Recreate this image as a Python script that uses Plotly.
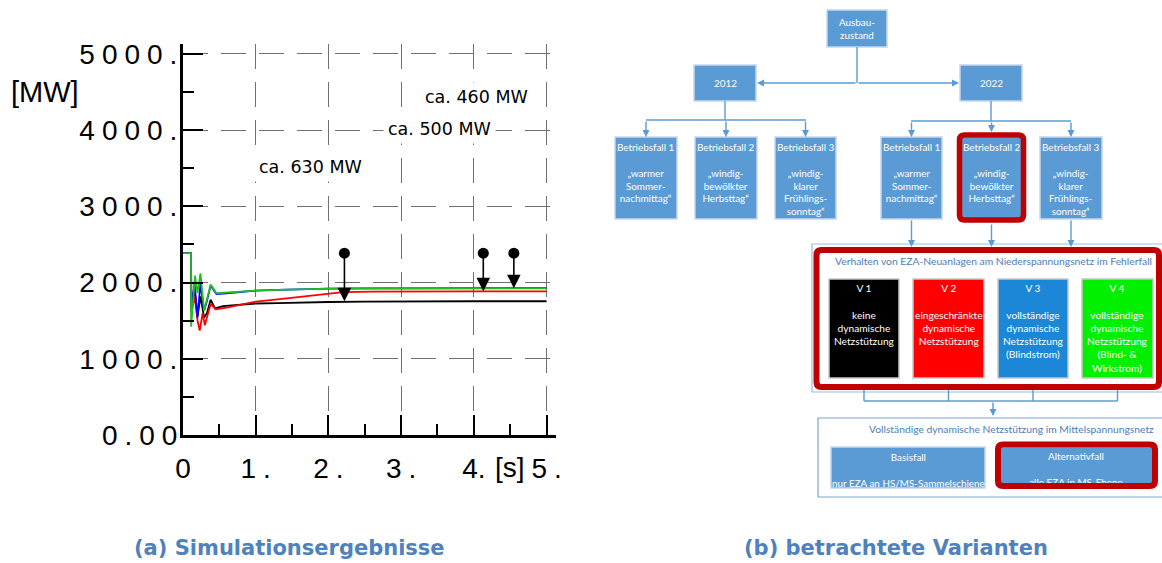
import plotly.graph_objects as go

# ---------------------------------------------------------------
# (a) Simulated active power [MW] after the fault, variants V1..V4
# ---------------------------------------------------------------
t_v1 = [0, 0.11, 0.115, 0.16, 0.2, 0.24, 0.29, 0.33, 0.38, 0.44, 0.55, 0.7, 0.85, 1.0, 1.3, 1.6, 2.0, 2.5, 3.0, 4.0, 5.0]
p_v1 = [2385, 2385, 1650, 1880, 1560, 1820, 1540, 1600, 1775, 1660, 1690, 1700, 1715, 1725, 1730, 1738, 1745, 1750, 1753, 1755, 1755]

t_v2 = [0, 0.11, 0.115, 0.16, 0.2, 0.23, 0.27, 0.3, 0.38, 0.45, 0.6, 0.8, 1.0, 1.3, 1.6, 1.9, 2.2, 2.6, 3.0, 4.0, 5.0]
p_v2 = [2385, 2385, 1600, 1820, 1500, 1370, 1600, 1440, 1720, 1650, 1670, 1710, 1750, 1780, 1810, 1850, 1875, 1882, 1885, 1885, 1885]

t_v3 = [0, 0.11, 0.115, 0.16, 0.2, 0.24, 0.29, 0.33, 0.38, 0.46, 0.6, 0.8, 1.0, 1.3, 1.6, 2.0, 2.5, 3.0, 4.0, 5.0]
p_v3 = [2385, 2385, 1700, 1980, 1540, 1990, 1630, 1760, 1960, 1850, 1860, 1880, 1895, 1905, 1915, 1920, 1923, 1925, 1927, 1928]

t_v4 = [0, 0.11, 0.112, 0.165, 0.2, 0.24, 0.29, 0.33, 0.38, 0.46, 0.6, 0.8, 1.0, 1.3, 1.6, 2.0, 2.5, 3.0, 4.0, 5.0]
p_v4 = [2385, 2385, 1420, 2090, 1860, 2120, 1630, 1800, 1975, 1860, 1870, 1885, 1895, 1905, 1915, 1920, 1922, 1924, 1925, 1925]

series_names = ["V 1", "V 2", "V 3", "V 4"]
series_colors = ["#000000", "#ff0000", "#0000ff", "#1fbf1f"]

# power drop markers: time, pre-fault level, settled level
drop_t = [2.22, 4.13, 4.55]
drop_from = [2385, 2385, 2385]
drop_to = [1755, 1885, 1925]
drop_labels = ["ca. 630 MW", "ca. 500 MW", "ca. 460 MW"]
drop_label_x = [1.75, 3.53, 4.04]
drop_label_y = [3510, 4010, 4440]

SP = "\u2005"  # letter spacing used in the tick labels
x_ticks = [0, 1, 2, 3, 4, 5]
x_ticktext = ["0", "1" + SP + ".", "2" + SP + ".", "3" + SP + ".", "4.", "5" + SP + "."]
y_ticks = [0, 1000, 2000, 3000, 4000, 5000]
y_ticktext = [SP.join("0.00"), SP.join("1000."), SP.join("2000."),
              SP.join("3000."), SP.join("4000."), SP.join("5000.")]

W, H = 1162, 563
fig = go.Figure()

for t, p, name, col in zip([t_v1, t_v2, t_v3, t_v4], [p_v1, p_v2, p_v3, p_v4], series_names, series_colors):
    fig.add_trace(go.Scatter(x=t, y=p, mode="lines", name=name,
                             line=dict(color=col, width=1.8), xaxis="x", yaxis="y",
                             hoverinfo="skip"))

fig.add_trace(go.Scatter(x=drop_t, y=drop_from, mode="markers",
                         marker=dict(color="black", size=11, symbol="circle"),
                         xaxis="x", yaxis="y", hoverinfo="skip"))

annotations = []
shapes = []

for t, a, b in zip(drop_t, drop_from, drop_to):
    annotations.append(dict(x=t, y=b, ax=t, ay=a, xref="x", yref="y", axref="x", ayref="y",
                            text="", showarrow=True, arrowhead=2, arrowsize=1.7,
                            arrowwidth=1.6, arrowcolor="black", standoff=0))

for txt, x, y in zip(drop_labels, drop_label_x, drop_label_y):
    annotations.append(dict(x=x, y=y, xref="x", yref="y", text=txt, showarrow=False,
                            font=dict(family="DejaVu Sans", size=17.5, color="black"),
                            bgcolor="white", borderpad=4))

# --------------------------------------------------------------
# helpers for the flow diagram, drawn on a pixel-scaled overlay axis
# --------------------------------------------------------------
BLUE = "#5b9bd5"
EDGE = "#c6d6ea"
DARKRED = "#c00000"
HEAD = "#4f7db3"
FONT = "Lato"
BOXSIZE = 9.9


def label(x, y, text, size=BOXSIZE, color="white", yanchor="middle", xanchor="center"):
    annotations.append(dict(x=x, y=y, xref="x2", yref="y2", text=text, showarrow=False,
                            font=dict(family=FONT, size=size, color=color),
                            xanchor=xanchor, yanchor=yanchor, align="center"))


def box(x0, y0, x1, y1, fill=BLUE, edge=EDGE, lw=1.5):
    shapes.append(dict(type="rect", xref="x2", yref="y2", x0=x0, y0=y0, x1=x1, y1=y1,
                       fillcolor=fill, line=dict(color=edge, width=lw), layer="below"))


def line(x0, y0, x1, y1, color=BLUE, lw=1.4):
    shapes.append(dict(type="line", xref="x2", yref="y2", x0=x0, y0=y0, x1=x1, y1=y1,
                       line=dict(color=color, width=lw), layer="below"))


def arrow(x0, y0, x1, y1, color=BLUE):
    annotations.append(dict(x=x1, y=y1, ax=x0, ay=y0, xref="x2", yref="y2", axref="x2", ayref="y2",
                            text="", showarrow=True, arrowhead=2, arrowsize=1.0,
                            arrowwidth=1.4, arrowcolor=color, standoff=0))


def rounded(x0, y0, x1, y1, r):
    return (f"M{x0 + r},{y0} L{x1 - r},{y0} Q{x1},{y0} {x1},{y0 + r} "
            f"L{x1},{y1 - r} Q{x1},{y1} {x1 - r},{y1} L{x0 + r},{y1} "
            f"Q{x0},{y1} {x0},{y1 - r} L{x0},{y0 + r} Q{x0},{y0} {x0 + r},{y0} Z")


def frame(x0, y0, x1, y1, lw=6, r=5):
    shapes.append(dict(type="path", xref="x2", yref="y2", path=rounded(x0, y0, x1, y1, r),
                       line=dict(color=DARKRED, width=lw), fillcolor="rgba(0,0,0,0)", layer="above"))


# top level
box(827, 10, 887, 47)
label(857, 28.5, "Ausbau-<br>zustand")
line(857, 47, 857, 83)
arrow(857, 83, 757, 83)
arrow(857, 83, 959, 83)

box(694, 65, 756, 101)
label(725, 83, "2012")
box(960, 65, 1022, 101)
label(991, 83, "2022")

# operating cases
cases = ["Betriebsfall 1<br><br>\u201ewarmer<br>Sommer-<br>nachmittag\u201c",
         "Betriebsfall 2<br><br>\u201ewindig-<br>bew\u00f6lkter<br>Herbsttag\u201c",
         "Betriebsfall 3<br><br>\u201ewindig-<br>klarer<br>Fr\u00fchlings-<br>sonntag\u201c"]

line(725, 101, 725, 120)
line(646, 120, 806, 120)
for (x0, x1), txt in zip([(615, 677), (695, 757), (775, 836)], cases):
    xc = (x0 + x1) / 2
    arrow(xc, 120, xc, 137)
    box(x0, 137, x1, 219)
    label(xc, 138.5, txt, yanchor="top")

line(991, 101, 991, 121)
line(911, 121, 1071, 121)
for (x0, x1), txt, target in zip([(881, 942), (961, 1022), (1040, 1102)], cases, [137, 132, 137]):
    xc = (x0 + x1) / 2
    arrow(xc, 121, xc, target)
    box(x0, 137, x1, 219)
    label(xc, 138.5, txt, yanchor="top")
    arrow(xc, 223 if target == 132 else 219, xc, 247)
frame(959.5, 135, 1023.5, 220, lw=5.5, r=5)

# fault behaviour of new low-voltage units
box(812, 244, 1175, 392, fill="white", edge="#9db9dc", lw=1.2)
frame(816.5, 250, 1159, 387, lw=6, r=5)
label(833, 261, "Verhalten von EZA-Neuanlagen am Niederspannungsnetz im Fehlerfall",
      size=10.3, color=HEAD, xanchor="left")

variants = [("#000000", "V 1<br><br>keine<br>dynamische<br>Netzst\u00fctzung"),
            ("#ff0000", "V 2<br><br>eingeschr\u00e4nkte<br>dynamische<br>Netzst\u00fctzung"),
            ("#1b87d6", "V 3<br><br>vollst\u00e4ndige<br>dynamische<br>Netzst\u00fctzung<br>(Blindstrom)"),
            ("#00f000", "V 4<br><br>vollst\u00e4ndige<br>dynamische<br>Netzst\u00fctzung<br>(Blind- &<br>Wirkstrom)")]
for (x0, x1), (col, txt) in zip([(829, 899), (913, 984), (998, 1068), (1082, 1153)], variants):
    xc = (x0 + x1) / 2
    box(x0, 279, x1, 378, fill=col, edge="#c8c8c8")
    label(xc, 280, txt, size=10.2, yanchor="top")
    line(xc, 390, xc, 401)
line(864, 401, 1117.5, 401)
arrow(993, 401, 993, 416)

# medium-voltage support
box(818, 418, 1175, 497, fill="white", edge="#7fa5d0", lw=1.2)
label(867, 429, "Vollst\u00e4ndige dynamische Netzst\u00fctzung im Mittelspannungsnetz",
      size=10.3, color=HEAD, xanchor="left")
box(831, 447, 985, 488)
label(908, 448.5, "Basisfall<br><br>nur EZA an HS/MS-Sammelschiene", yanchor="top")
box(1000, 447, 1153, 487)
label(1076, 456, "Alternativfall")
fig.add_trace(go.Scatter(x=[1076], y=[484], mode="text", text=["alle EZA in MS-Ebene"],
                         textfont=dict(family=FONT, size=BOXSIZE, color="white"),
                         xaxis="x2", yaxis="y2", hoverinfo="skip"))
frame(998, 444.5, 1155, 486, lw=6, r=5)

# axis units and captions
annotations.append(dict(x=45, y=92, xref="x2", yref="y2", text="[MW]", showarrow=False,
                        font=dict(family="Liberation Sans", size=29, color="black")))
annotations.append(dict(x=510, y=467, xref="x2", yref="y2", text="[s]", showarrow=False,
                        font=dict(family="Liberation Sans", size=28, color="black")))
annotations.append(dict(x=289, y=548, xref="x2", yref="y2", text="<b>(a) Simulationsergebnisse</b>",
                        showarrow=False, font=dict(family="DejaVu Sans", size=21, color="#4f81bd")))
annotations.append(dict(x=896, y=548, xref="x2", yref="y2", text="<b>(b) betrachtete Varianten</b>",
                        showarrow=False, font=dict(family="DejaVu Sans", size=21, color="#4f81bd")))

grid = dict(showgrid=True, gridcolor="#707070", gridwidth=1.2, griddash="25px,13px", zeroline=False)
tickfont = dict(family="Liberation Sans", size=28, color="black")
hidden = dict(domain=[0, 1], showgrid=False, zeroline=False, showline=False, ticks="",
              showticklabels=False, automargin=False, fixedrange=True)

fig.update_layout(
    width=W, height=H, autosize=False,
    margin=dict(l=0, r=0, t=0, b=0, pad=0),
    paper_bgcolor="white", plot_bgcolor="rgba(0,0,0,0)",
    showlegend=False,
    xaxis=dict(domain=[183 / W, 556 / W], range=[0, 5.13], anchor="y", automargin=False,
               showline=True, linewidth=3, linecolor="black",
               ticks="inside", ticklen=20, tickwidth=2, tickcolor="black",
               tickvals=x_ticks, ticktext=x_ticktext, tickfont=tickfont, ticklabelstandoff=6,
               minor=dict(dtick=0.5, ticks="inside", ticklen=11, tickwidth=2, tickcolor="black", showgrid=False),
               **grid),
    yaxis=dict(domain=[1 - 435 / H, 1 - 44 / H], range=[0, 5130], anchor="x", automargin=False,
               showline=True, linewidth=3, linecolor="black",
               ticks="inside", ticklen=20, tickwidth=2, tickcolor="black",
               tickvals=y_ticks, ticktext=y_ticktext, tickfont=tickfont, ticklabelstandoff=-3,
               minor=dict(dtick=500, ticks="inside", ticklen=11, tickwidth=2, tickcolor="black", showgrid=False),
               **grid),
    xaxis2=dict(range=[0, W], anchor="y2", **hidden),
    yaxis2=dict(range=[H, 0], anchor="x2", **hidden),
    shapes=shapes,
    annotations=annotations,
)

fig.write_html("out.html")
